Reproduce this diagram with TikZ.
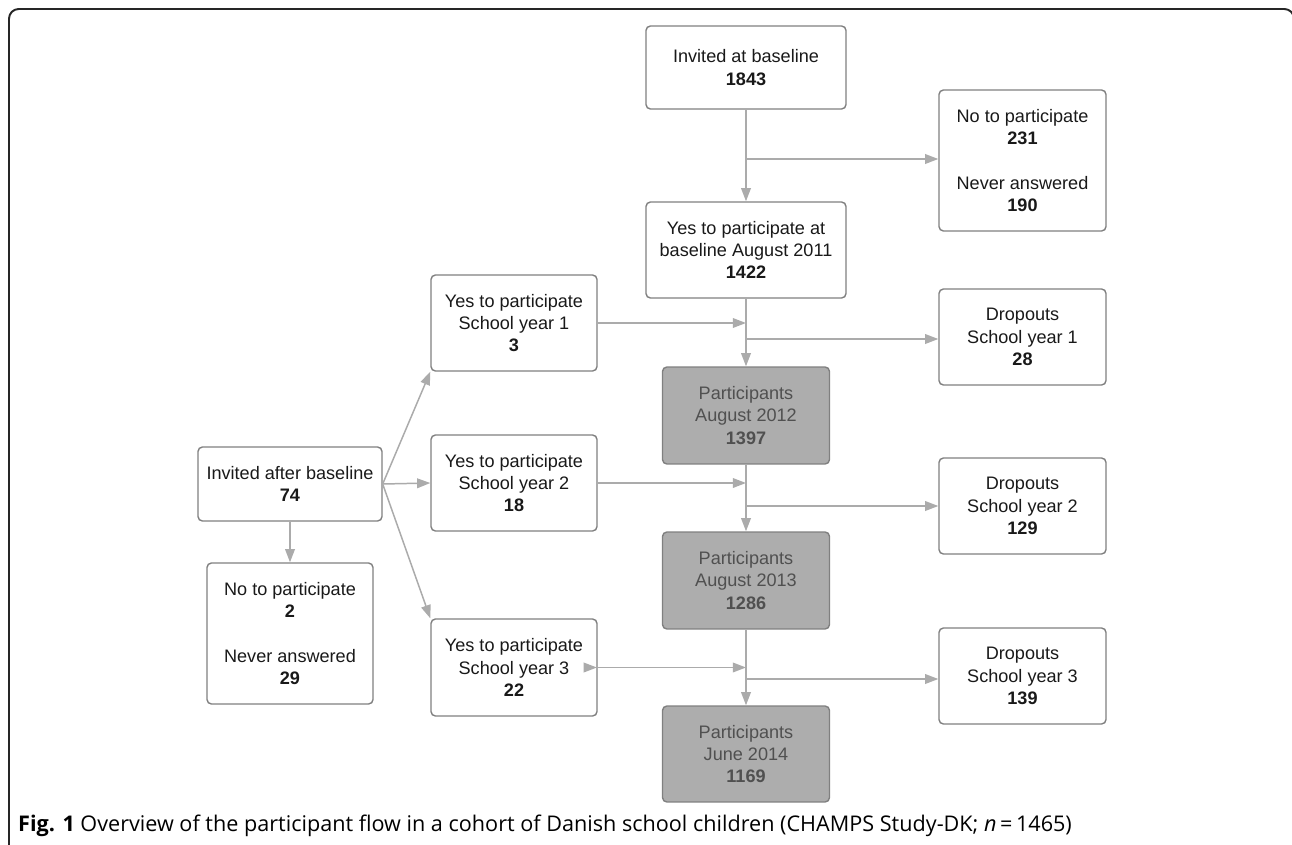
\documentclass[tikz,border=0pt]{standalone}
\usepackage{fontspec}
\setmainfont{Liberation Sans}
\newfontfamily\capfont{Open Sans}
\usetikzlibrary{
    arrows.meta,
    calc
}
\definecolor{linegray}{HTML}{ABABAB}
\definecolor{edgegray}{HTML}{808080}
\definecolor{fillgray}{HTML}{ADADAD}
\definecolor{textgray}{HTML}{505050}
\tikzset{
    box/.style={draw=edgegray, line width=0.8pt, rounded corners=2.5pt, align=center,
        inner sep=0pt, text=black!90, font=\fontsize{10.3}{12.7}\selectfont},
    partbox/.style={box, fill=fillgray, text=textgray},
    flow/.style={draw=linegray, line width=0.85pt},
    arr/.style={flow, -{Triangle[length=7.5pt,width=5.5pt]}}
}

\begin{document}
\begin{tikzpicture}[x=0.02cm,y=-0.02cm]
        \useasboundingbox (0,0) rectangle (1292,845);
        \clip (0,0) rectangle (1292,845);
        \draw[black!85, line width=1.1pt, rounded corners=5.5pt] (9,870) -- (9,9) -- (1294,9) -- (1294,870);

        % middle column
        \draw (746,67.5) node[box,minimum width=4cm,minimum height=1.66cm](inv){Invited at baseline\\\textbf{1843}};
        \draw (746,250) node[box,minimum width=4cm,minimum height=1.92cm](yes0){Yes to participate at\\baseline August 2011\\\textbf{1422}};
        \draw (746,415.5) node[partbox,minimum width=3.34cm,minimum height=1.94cm](p12){Participants\\August 2012\\\textbf{1397}};
        \draw (746,580.5) node[partbox,minimum width=3.34cm,minimum height=1.94cm](p13){Participants\\August 2013\\\textbf{1286}};
        \draw (746,754) node[partbox,minimum width=3.34cm,minimum height=1.92cm](p14){Participants\\June 2014\\\textbf{1169}};

        % right column
        \draw (1022.5,160.5) node[box,minimum width=3.34cm,minimum height=2.82cm](no1){No to participate\\\textbf{231}\\[12.7pt]Never answered\\\textbf{190}};
        \draw (1022.5,337) node[box,minimum width=3.34cm,minimum height=1.92cm](drop1){Dropouts\\School year 1\\\textbf{28}};
        \draw (1022.5,506) node[box,minimum width=3.34cm,minimum height=1.92cm](drop2){Dropouts\\School year 2\\\textbf{129}};
        \draw (1022.5,676) node[box,minimum width=3.34cm,minimum height=1.92cm](drop3){Dropouts\\School year 3\\\textbf{139}};

        % left columns
        \draw (514,323) node[box,minimum width=3.32cm,minimum height=1.92cm](sy1){Yes to participate\\School year 1\\\textbf{3}};
        \draw (514,483) node[box,minimum width=3.32cm,minimum height=1.92cm](sy2){Yes to participate\\School year 2\\\textbf{18}};
        \draw (514,667.5) node[box,minimum width=3.32cm,minimum height=1.94cm](sy3){Yes to participate\\School year 3\\\textbf{22}};
        \draw (290,484) node[box,minimum width=3.68cm,minimum height=1.48cm](after){Invited after baseline\\\textbf{74}};
        \draw (290,633.5) node[box,minimum width=3.32cm,minimum height=2.82cm](no2){No to participate\\\textbf{2}\\[12.7pt]Never answered\\\textbf{29}};

        \coordinate (j0) at (746,159);
        \coordinate (j1) at (746,339);
        \coordinate (j2) at (746,506);
        \coordinate (j3) at (746,679);

        \draw[arr] (inv) -- (yes0);
        \draw[arr] (yes0) -- (p12);
        \draw[arr] (p12) -- (p13);
        \draw[arr] (p13) -- (p14);

        \draw[arr] (j0) -- (no1.west |- j0);
        \draw[arr] (j1) -- (drop1.west |- j1);
        \draw[arr] (j2) -- (drop2.west |- j2);
        \draw[arr] (j3) -- (drop3.west |- j3);

        \draw[arr] (sy1) -- (sy1 -| p12);
        \draw[arr] (sy2) -- (sy2 -| p12);
        \draw[flow, {Triangle[reversed,length=7.5pt,width=5.5pt]}-{Triangle[length=7.5pt,width=5.5pt]}] ($(sy3.east)+(-14,0)$) -- (sy3 -| p13);

        \draw[arr] (after.east) -- (sy1.south west);
        \draw[arr] (after.east) -- (sy2.west);
        \draw[arr] (after.east) -- (sy3.north west);
        \draw[arr] (after) -- (no2);

        \node[anchor=base west, font=\capfont\fontsize{12.3}{14}\selectfont] (cap) at (12,831)
            {\textbf{Fig. 1} Overview of the participant flow in a cohort of Danish school children (CHAMPS Study-DK; \textit{n}\,=\,1465)};
    \end{tikzpicture}
\end{document}
